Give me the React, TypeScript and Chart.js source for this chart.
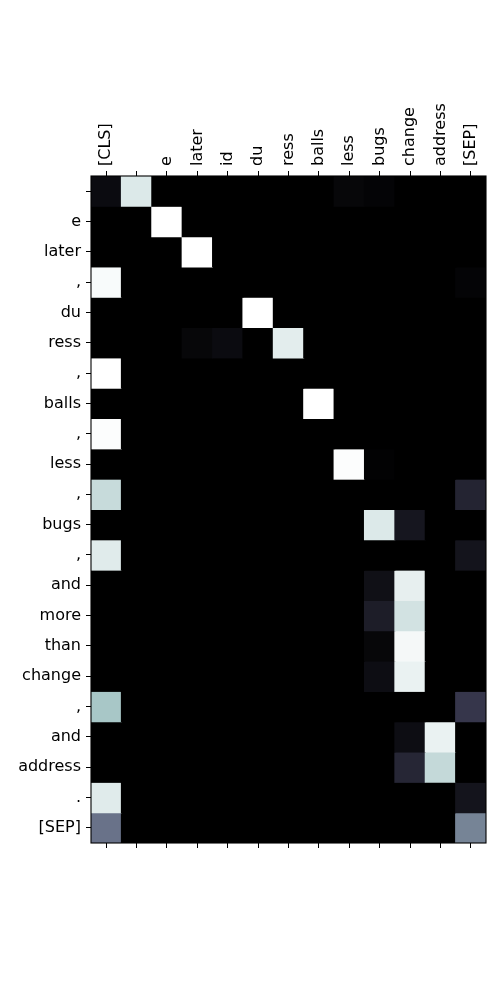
import React, { useEffect, useRef } from "react";
import { Chart, registerables } from "chart.js";

Chart.register(...registerables);

const xLabels: string[] = ["[CLS]", "", "e", "later", "id", "du", "ress", "balls", "less", "bugs", "change", "address", "[SEP]"];
const yLabels: string[] = ["", "e", "later", ",", "du", "ress", ",", "balls", ",", "less", ",", "bugs", ",", "and", "more", "than", "change", ",", "and", "address", ".", "[SEP]"];

// attention weights, one row per y label, one value per x label
const attention: number[][] = [
  [0.05, 0.9, 0, 0, 0, 0, 0, 0, 0.03, 0.02, 0, 0, 0],
  [0, 0, 1, 0, 0, 0, 0, 0, 0, 0, 0, 0, 0],
  [0, 0, 0, 1, 0, 0, 0, 0, 0, 0, 0, 0, 0],
  [0.98, 0, 0, 0, 0, 0, 0, 0, 0, 0, 0, 0, 0.02],
  [0, 0, 0, 0, 0, 1, 0, 0, 0, 0, 0, 0, 0],
  [0, 0, 0, 0.03, 0.05, 0, 0.92, 0, 0, 0, 0, 0, 0],
  [1, 0, 0, 0, 0, 0, 0, 0, 0, 0, 0, 0, 0],
  [0, 0, 0, 0, 0, 0, 0, 1, 0, 0, 0, 0, 0],
  [0.99, 0, 0, 0, 0, 0, 0, 0, 0, 0, 0, 0, 0],
  [0, 0, 0, 0, 0, 0, 0, 0, 0.99, 0.01, 0, 0, 0],
  [0.84, 0, 0, 0, 0, 0, 0, 0, 0, 0, 0, 0, 0.16],
  [0, 0, 0, 0, 0, 0, 0, 0, 0, 0.9, 0.1, 0, 0],
  [0.91, 0, 0, 0, 0, 0, 0, 0, 0, 0, 0, 0, 0.09],
  [0, 0, 0, 0, 0, 0, 0, 0, 0, 0.07, 0.93, 0, 0],
  [0, 0, 0, 0, 0, 0, 0, 0, 0, 0.13, 0.87, 0, 0],
  [0, 0, 0, 0, 0, 0, 0, 0, 0, 0.03, 0.97, 0, 0],
  [0, 0, 0, 0, 0, 0, 0, 0, 0, 0.06, 0.94, 0, 0],
  [0.75, 0, 0, 0, 0, 0, 0, 0, 0, 0, 0, 0, 0.24],
  [0, 0, 0, 0, 0, 0, 0, 0, 0, 0, 0.06, 0.94, 0],
  [0, 0, 0, 0, 0, 0, 0, 0, 0, 0, 0.17, 0.83, 0],
  [0.91, 0, 0, 0, 0, 0, 0, 0, 0, 0, 0, 0, 0.09],
  [0.47, 0, 0, 0, 0, 0, 0, 0, 0, 0, 0, 0, 0.53],
];

const boneR: [number, number][] = [[0, 0], [0.746032, 0.652778], [1, 1]];
const boneG: [number, number][] = [[0, 0], [0.365079, 0.319444], [0.746032, 0.777778], [1, 1]];
const boneB: [number, number][] = [[0, 0], [0.365079, 0.444444], [1, 1]];

function interp(stops: [number, number][], v: number): number {
  for (let i = 1; i < stops.length; i++) {
    if (v <= stops[i][0]) {
      const [x0, y0] = stops[i - 1];
      const [x1, y1] = stops[i];
      return y0 + ((v - x0) / (x1 - x0)) * (y1 - y0);
    }
  }
  return stops[stops.length - 1][1];
}

function bone(v: number): string {
  const t = Math.max(0, Math.min(1, v));
  const r = Math.round(interp(boneR, t) * 255);
  const g = Math.round(interp(boneG, t) * 255);
  const b = Math.round(interp(boneB, t) * 255);
  return `rgb(${r},${g},${b})`;
}

const LINE_HEIGHT = 1.2;
const FONT_SIZE = 16;
const FONT = { family: "'DejaVu Sans', sans-serif", size: FONT_SIZE, lineHeight: LINE_HEIGHT };

export default function App() {
  const ref = useRef<HTMLCanvasElement | null>(null);

  useEffect(() => {
    if (!ref.current) return;
    const all = attention.flat();
    const vmin = Math.min(...all);
    const vmax = Math.max(...all);
    const norm = (v: number) => (v - vmin) / (vmax - vmin);

    const datasets = attention.map((row, r) => ({
      label: yLabels[r] || " ",
      data: row.map(() => [r, r + 1] as [number, number]),
      backgroundColor: row.map((v) => bone(norm(v))),
      borderWidth: 0,
      inflateAmount: 0.5,
      barPercentage: 1,
      categoryPercentage: 1,
      grouped: false,
      xAxisID: "x",
      yAxisID: "y",
    }));

    const frame = {
      id: "frame",
      afterDatasetsDraw(chart: any) {
        const { ctx, chartArea } = chart;
        ctx.save();
        ctx.strokeStyle = "#000";
        ctx.lineWidth = 1.1;
        ctx.strokeRect(chartArea.left, chartArea.top, chartArea.right - chartArea.left, chartArea.bottom - chartArea.top);
        ctx.restore();
      },
    };

    const chart = new Chart(ref.current, {
      type: "bar",
      data: { labels: xLabels, datasets: datasets as any },
      options: {
        animation: false,
        responsive: false,
        devicePixelRatio: 1,
        layout: { padding: { left: 0, right: 14, top: 0, bottom: 0 } },
        plugins: { legend: { display: false }, tooltip: { enabled: false } },
        scales: {
          x: {
            type: "category",
            position: "top",
            offset: true,
            grid: { offset: false, drawOnChartArea: false, drawTicks: true, tickLength: 5, tickColor: "#000", tickWidth: 1 },
            border: { display: false },
            ticks: {
              autoSkip: false,
              maxRotation: 90,
              minRotation: 90,
              padding: 5,
              labelOffset: FONT_SIZE * LINE_HEIGHT,
              color: "#000",
              font: FONT,
            },
            afterFit: (s: any) => { s.height = 176; },
          },
          x2: {
            type: "category",
            position: "bottom",
            labels: xLabels,
            offset: true,
            grid: { offset: false, drawOnChartArea: false, drawTicks: true, tickLength: 5, tickColor: "#000", tickWidth: 1 },
            border: { display: false },
            ticks: { display: false, autoSkip: false },
            afterFit: (s: any) => { s.height = 157; },
          },
          y: {
            type: "linear",
            min: 0,
            max: yLabels.length,
            reverse: true,
            grid: { drawOnChartArea: false, drawTicks: true, tickLength: 5, tickColor: "#000", tickWidth: 1 },
            border: { display: false },
            afterBuildTicks: (s: any) => { s.ticks = yLabels.map((_, i) => ({ value: i + 0.5 })); },
            ticks: {
              autoSkip: false,
              padding: 5,
              color: "#000",
              font: FONT,
              callback: (value: any) => yLabels[Math.floor(Number(value))],
            },
            afterFit: (s: any) => { s.width = 91; },
          },
        },
      } as any,
      plugins: [frame],
    });
    return () => chart.destroy();
  }, []);

  return (
    <div style={{ position: "absolute", left: 0, top: 0, width: 500, height: 1000, background: "#fff" }}>
      <canvas ref={ref} width={500} height={1000} style={{ display: "block", width: 500, height: 1000 }} />
    </div>
  );
}
